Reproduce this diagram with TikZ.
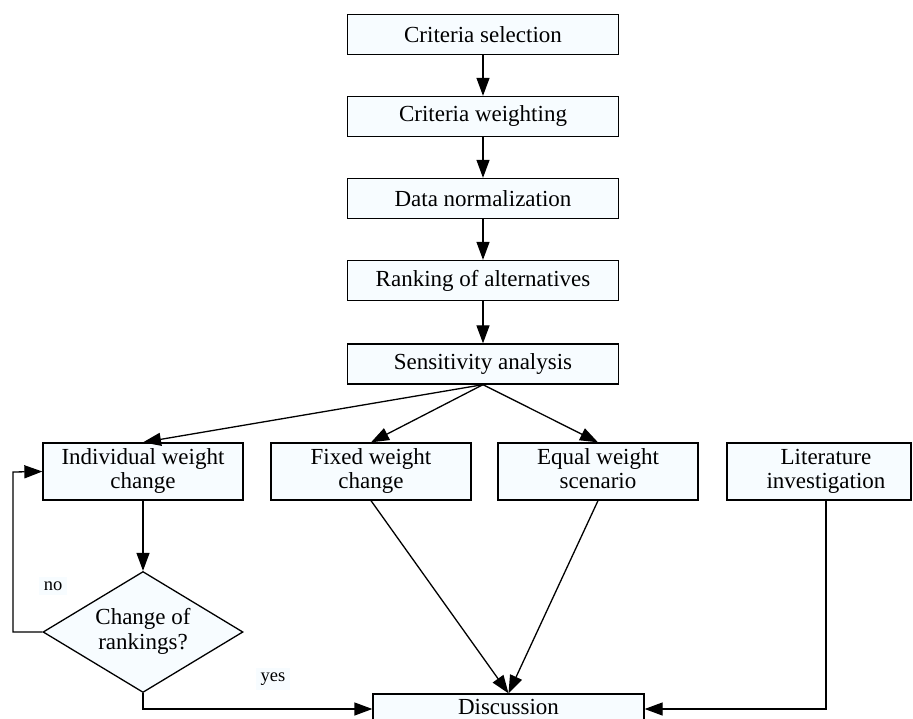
\documentclass[tikz,border=0pt]{standalone}
\usepackage{fontspec}
\setmainfont{Liberation Serif}
\usetikzlibrary{arrows.meta,shapes.geometric}
\definecolor{boxfill}{RGB}{247,252,255}
\tikzset{
  base/.style={draw=black,line width=1.3pt,fill=boxfill,inner sep=0pt,align=center,
    font=\fontsize{23}{24.5}\selectfont},
  box/.style={base,rectangle,minimum width=271pt,minimum height=40pt},
  sbox/.style={base,rectangle,minimum width=200pt,minimum height=57pt},
  dia/.style={base,diamond,minimum width=200pt,minimum height=121pt,aspect=1.65},
  conn/.style={line width=1.3pt,-{Triangle[length=18pt,width=13pt]}},
  lab/.style={fill=boxfill,inner sep=5pt,font=\fontsize{18.5}{20}\selectfont}
}
\begin{document}
\begin{tikzpicture}[x=1pt,y=-1pt]
\useasboundingbox (0,0) rectangle (913,719);
\clip (0,0) rectangle (913,719);
\node[box] (sel) at (483,34.5) {Criteria selection};
\node[box] (wei) at (483,116.5) {Criteria weighting};
\node[box] (nor) at (483,198.5) {Data normalization};
\node[box] (ran) at (483,280.5) {Ranking of alternatives};
\node[box] (sen) at (483,364) {Sensitivity analysis};
\node[sbox] (ind) at (143,471.5) {\strut Individual weight\\\strut change};
\node[sbox] (fix) at (371,471.5) {\strut Fixed weight\\\strut change};
\node[sbox] (equ) at (598,471.5) {\strut Equal weight\\\strut scenario};
\node[sbox,minimum width=184pt] (lit) at (819,471.5) {\hspace*{14pt}\strut Literature\\\hspace*{14pt}\strut investigation};
\node[dia] (chg) at (143,632) {\strut Change of\\\strut rankings?};
\node[box,minimum height=30pt] (dis) at (508.5,709) {\raisebox{4pt}{Discussion}};
\coordinate (nol) at (13,632);
\coordinate (nou) at (13,472);
\node[lab] (no) at (53,586) {no};
\node[lab] (yes) at (273,679) {yes};
\draw[conn] (sel) -- (wei);
\draw[conn] (wei) -- (nor);
\draw[conn] (nor) -- (ran);
\draw[conn] (ran) -- (sen);
\draw[conn] (sen.south) -- (ind.north);
\draw[conn] (sen.south) -- (fix.north);
\draw[conn] (sen.south) -- (equ.north);
\draw[conn] (ind) -- (chg);
\draw[conn] (chg.west) -- (nol) -- (nou) -- (ind.west);
\draw[conn] (chg.south) |- (dis.west);
\draw[conn] (fix.south) -- (dis.north);
\draw[conn] (equ.south) -- (dis.north);
\draw[conn] ([xshift=7pt]lit.south) |- (dis.east);
\end{tikzpicture}
\end{document}
